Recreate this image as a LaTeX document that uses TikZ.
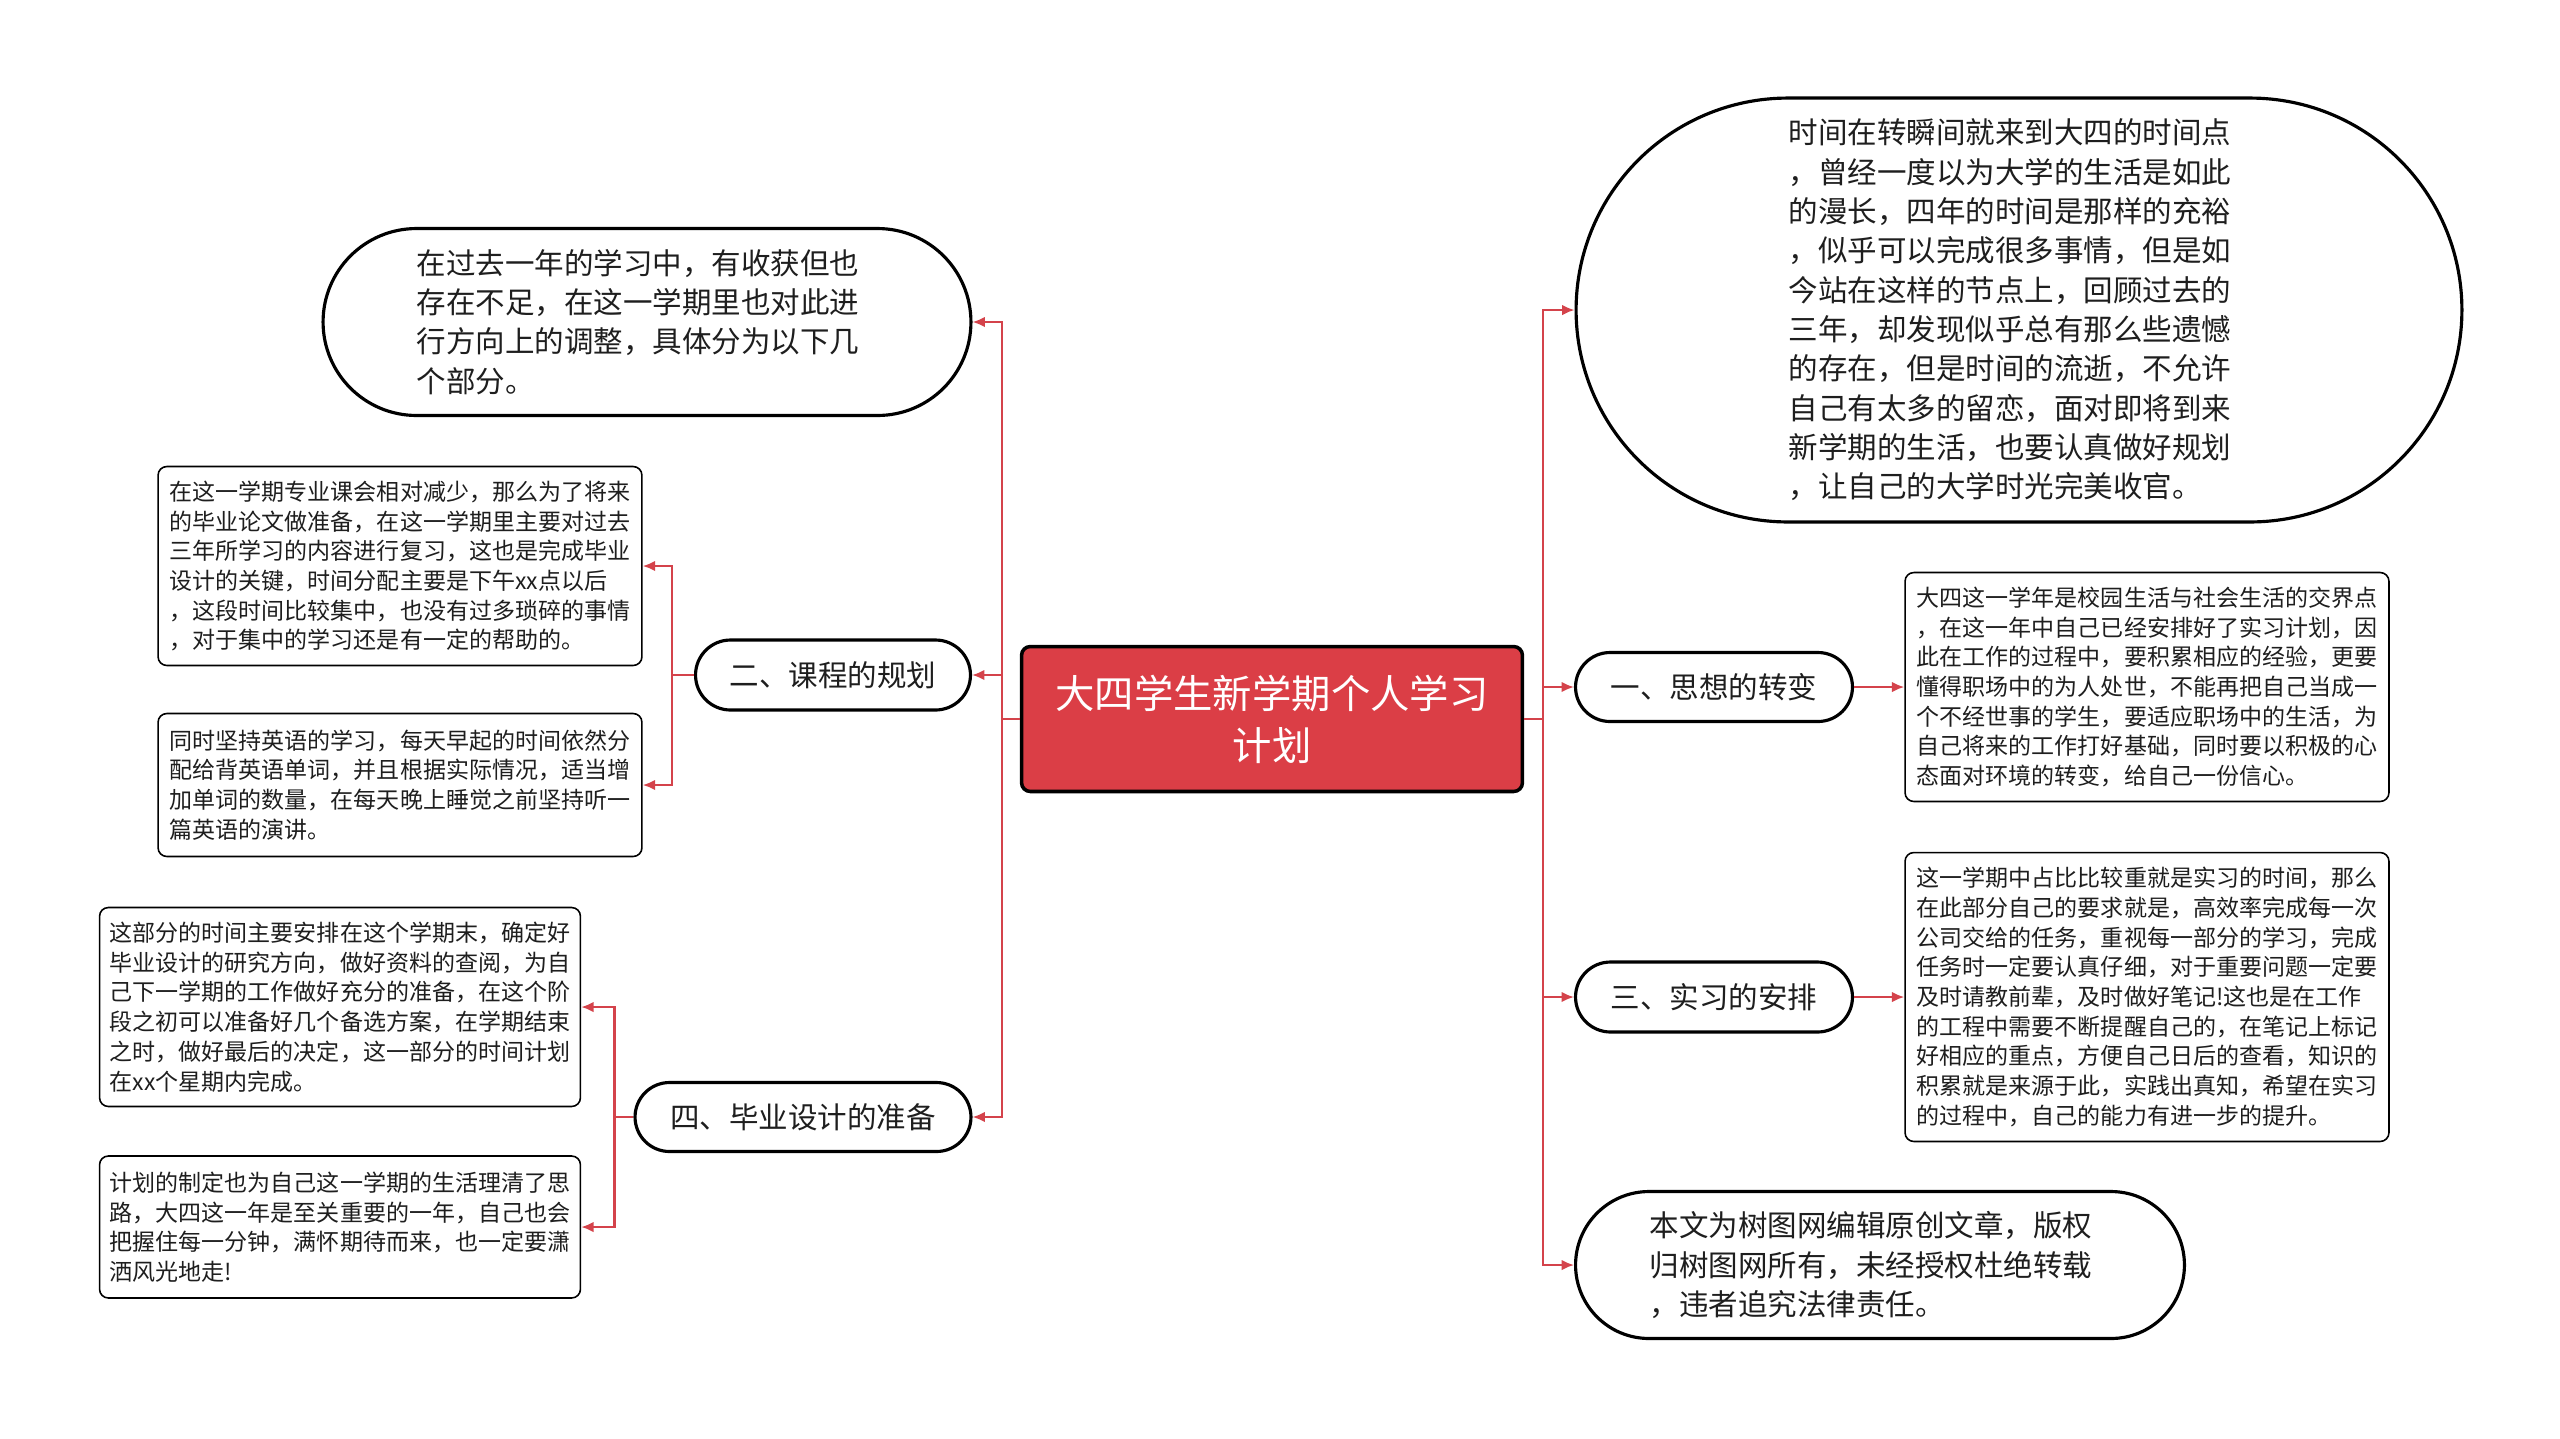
\documentclass[tikz,border=0pt]{standalone}
\usepackage{fontspec}
\setmainfont{Noto Sans CJK SC}
\usepackage{xcolor}
\usepackage{tikz}
\usetikzlibrary{arrows.meta, shapes.misc}
\definecolor{linkred}{HTML}{D4434B}
\definecolor{hubred}{HTML}{DB3E46}
\definecolor{inkgray}{HTML}{1E1E1E}

\begin{document}
\begin{tikzpicture}[x=0.02cm, y=-0.02cm,
        link/.style={draw=linkred, line width=1.2pt, -{Latex[length=7pt,width=6pt]}},
        pill/.style={rounded rectangle, draw=black, line width=1.8pt, fill=white, text=inkgray,
            align=left, inner sep=0pt, font=\fontsize{16.8pt}{22.4pt}\selectfont},
        leaf/.style={rectangle, rounded corners=5pt, draw=black, line width=0.9pt, fill=white,
            text=inkgray, align=left, inner sep=0pt, font=\fontsize{13.1pt}{16.9pt}\selectfont}]
        \useasboundingbox (0,0) rectangle (2560,1438);
        % Centre topic
        \node[rectangle, rounded corners=5pt, draw=black, line width=2pt, fill=hubred, text=white,
            align=center, minimum width=10.02cm, minimum height=2.9cm,
            font=\fontsize{22.4pt}{29.5pt}\selectfont] (plan) at (1272,719)
            {大四学生新学期个人学习\\计划};
        % Left side
        \node[pill, minimum width=12.96cm, minimum height=3.74cm] (intro) at (647,322)
            {在过去一年的学习中，有收获但也\hspace*{0.36cm}\\存在不足，在这一学期里也对此进\\行方向上的调整，具体分为以下几\\个部分。};
        \node[pill, minimum width=5.5cm, minimum height=1.4cm] (course) at (833,675) {二、课程的规划};
        \node[pill, minimum width=6.72cm, minimum height=1.38cm] (thesis) at (803,1117) {四、毕业设计的准备};
        \node[leaf, minimum width=9.68cm, minimum height=3.98cm] (courseA) at (400,566)
            {在这一学期专业课会相对减少，那么为了将来\\的毕业论文做准备，在这一学期里主要对过去\\三年所学习的内容进行复习，这也是完成毕业\\设计的关键，时间分配主要是下午xx点以后\\，这段时间比较集中，也没有过多琐碎的事情\\，对于集中的学习还是有一定的帮助的。};
        \node[leaf, minimum width=9.68cm, minimum height=2.86cm] (courseB) at (400,785)
            {同时坚持英语的学习，每天早起的时间依然分\\配给背英语单词，并且根据实际情况，适当增\\加单词的数量，在每天晚上睡觉之前坚持听一\\篇英语的演讲。};
        \node[leaf, minimum width=9.62cm, minimum height=3.98cm] (thesisA) at (340,1007)
            {这部分的时间主要安排在这个学期末，确定好\\毕业设计的研究方向，做好资料的查阅，为自\\己下一学期的工作做好充分的准备，在这个阶\\段之初可以准备好几个备选方案，在学期结束\\之时，做好最后的决定，这一部分的时间计划\\在xx个星期内完成。};
        \node[leaf, minimum width=9.62cm, minimum height=2.84cm] (thesisB) at (340,1227)
            {计划的制定也为自己这一学期的生活理清了思\\路，大四这一年是至关重要的一年，自己也会\\把握住每一分钟，满怀期待而来，也一定要潇\\洒风光地走!};
        % Right side
        \node[pill, minimum width=17.72cm, minimum height=8.48cm] (outlook) at (2019,310)
            {时间在转瞬间就来到大四的时间点\hspace*{0.36cm}\\，曾经一度以为大学的生活是如此\\的漫长，四年的时间是那样的充裕\\，似乎可以完成很多事情，但是如\\今站在这样的节点上，回顾过去的\\三年，却发现似乎总有那么些遗憾\\的存在，但是时间的流逝，不允许\\自己有太多的留恋，面对即将到来\\新学期的生活，也要认真做好规划\\，让自己的大学时光完美收官。};
        \node[pill, minimum width=5.54cm, minimum height=1.38cm] (think) at (1714,687) {一、思想的转变};
        \node[pill, minimum width=5.54cm, minimum height=1.4cm] (intern) at (1714,997) {三、实习的安排};
        \node[pill, minimum width=12.18cm, minimum height=2.94cm] (notice) at (1880,1265)
            {本文为树图网编辑原创文章，版权\hspace*{0.36cm}\\归树图网所有，未经授权杜绝转载\\，违者追究法律责任。};
        \node[leaf, minimum width=9.68cm, minimum height=4.58cm] (thinkA) at (2147,687)
            {大四这一学年是校园生活与社会生活的交界点\\，在这一年中自己已经安排好了实习计划，因\\此在工作的过程中，要积累相应的经验，更要\\懂得职场中的为人处世，不能再把自己当成一\\个不经世事的学生，要适应职场中的生活，为\\自己将来的工作打好基础，同时要以积极的心\\态面对环境的转变，给自己一份信心。};
        \node[leaf, minimum width=9.68cm, minimum height=5.78cm] (internA) at (2147,997)
            {这一学期中占比比较重就是实习的时间，那么\\在此部分自己的要求就是，高效率完成每一次\\公司交给的任务，重视每一部分的学习，完成\\任务时一定要认真仔细，对于重要问题一定要\\及时请教前辈，及时做好笔记!这也是在工作\\的工程中需要不断提醒自己的，在笔记上标记\\好相应的重点，方便自己日后的查看，知识的\\积累就是来源于此，实践出真知，希望在实习\\的过程中，自己的能力有进一步的提升。};
        % Connectors
        \coordinate (ltrunk) at (1002,719);
        \coordinate (rtrunk) at (1543,719);
        \foreach \kid in {intro, course, thesis}
            \draw[link] (plan.west) -- (ltrunk) |- (\kid.east);
        \foreach \kid in {outlook, think, intern, notice}
            \draw[link] (plan.east) -- (rtrunk) |- (\kid.west);
        \foreach \kid in {courseA, courseB}
            \draw[link] (course.west) -- ++(-22,0) |- (\kid.east);
        \foreach \kid in {thesisA, thesisB}
            \draw[link] (thesis.west) -- ++(-19,0) |- (\kid.east);
        \draw[link] (think.east) -- (thinkA.west);
        \draw[link] (intern.east) -- (internA.west);
    \end{tikzpicture}
\end{document}
